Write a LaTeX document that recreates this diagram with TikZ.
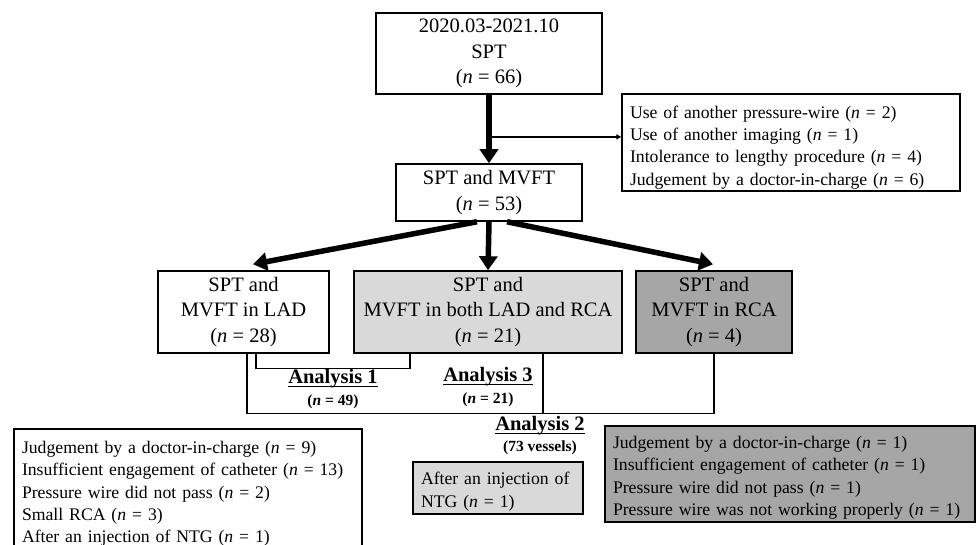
\documentclass[tikz,border=0pt]{standalone}
\usepackage{fontspec}
\setmainfont{Liberation Serif}
\usetikzlibrary{arrows.meta,calc}
\definecolor{lightbox}{HTML}{D9D9D9}
\definecolor{darkbox}{HTML}{A6A6A6}
\newcommand{\nn}[1]{(\textit{n} = #1)}
\newcommand{\thickul}[1]{\setbox0\hbox{#1}\rlap{\rule[-3.5pt]{\wd0}{1.6pt}}\box0}
\begin{document}
\begin{tikzpicture}[x=1pt,y=-1pt,
  box/.style={draw=black, line width=1.5pt, inner sep=0pt, align=center, font=\fontsize{20.5}{25.5}\selectfont,
    execute at begin node={\rule{0pt}{20pt}}},
  listbox/.style={draw=black, line width=1.5pt, inner xsep=8pt, inner ysep=0pt, align=left, font=\fontsize{17.7}{22.3}\selectfont,
    execute at begin node={\rule{0pt}{20pt}}},
  bigarrow/.style={line width=5.5pt, -{Triangle[length=14pt,width=18pt]}},
  thinarrow/.style={line width=1.3pt, -{Triangle[length=5pt,width=5pt]}},
  bracket/.style={line width=1.3pt},
  albl/.style={font=\fontsize{20.5}{22}\selectfont\bfseries, inner sep=0pt},
  nlbl/.style={font=\fontsize{15.5}{18}\selectfont\bfseries, inner sep=0pt}]

\useasboundingbox (0,0) rectangle (977,545);

% boxes
\node[box, minimum width=226pt, minimum height=81pt] (T) at (489,53.5) {2020.03-2021.10\\SPT\\\nn{66}};
\node[listbox, minimum width=338pt, minimum height=97pt, text width=322pt,
  execute at begin node={\rule{0pt}{22pt}}] (E) at (791,142.5)
  {Use of another pressure-wire \nn{2}\\Use of another imaging \nn{1}\\Intolerance to lengthy procedure \nn{4}\\Judgement by a doctor-in-charge \nn{6}};
\node[box, minimum width=186pt, minimum height=57pt] (S) at (489,192.5) {SPT and MVFT\\\nn{53}};

\node[box, minimum width=171pt, minimum height=82pt] (L) at (243.5,312) {SPT and\\MVFT in LAD\\\nn{28}};
\node[box, fill=lightbox, minimum width=268pt, minimum height=82pt] (M) at (488,312) {SPT and\\MVFT in both LAD and RCA\\\nn{21}};
\node[box, fill=darkbox, minimum width=156pt, minimum height=82pt] (R) at (714,312) {SPT and\\MVFT in RCA\\\nn{4}};

\node[listbox, minimum width=348pt, minimum height=122pt, text width=332pt] (BL) at (188,490)
  {Judgement by a doctor-in-charge \nn{9}\\Insufficient engagement of catheter \nn{13}\\Pressure wire did not pass \nn{2}\\Small RCA \nn{3}\\After an injection of NTG \nn{1}};
\node[listbox, fill=lightbox, minimum width=170pt, minimum height=52pt, text width=154pt] (N) at (498,488)
  {After an injection of\\NTG \nn{1}};
\node[listbox, fill=darkbox, minimum width=370pt, minimum height=96pt, text width=354pt] (BR) at (790,474)
  {Judgement by a doctor-in-charge \nn{1}\\Insufficient engagement of catheter \nn{1}\\Pressure wire did not pass \nn{1}\\Pressure wire was not working properly \nn{1}};

% analysis labels
\node[albl] (A1) at (333,379) {\thickul{Analysis 1}};
\node[nlbl] (A1n) at (333,402) {\nn{49}};
\node[albl] (A3) at (488,377) {\thickul{Analysis 3}};
\node[nlbl] (A3n) at (488,400) {\nn{21}};
\node[albl] (A2) at (540,426) {\thickul{Analysis 2}};
\node[nlbl] (A2n) at (540,448) {(73 vessels)};

% connectors
\draw[bigarrow] (T.south) -- (S.north);
\coordinate (br) at ($(T.south)!0.615!(S.north)$);
\draw[thinarrow] (br) -- (br -| E.west);
\draw[bigarrow] ([xshift=-12pt]S.south) -- ([xshift=9.5pt,yshift=6pt]L.north);
\draw[bigarrow] (S.south) -- (M.north);
\draw[bigarrow] ([xshift=18pt]S.south) -- ([xshift=-1pt,yshift=6pt]R.north);

\draw[bracket] ([xshift=12.5pt]L.south) -- ++(0,15) -| ([xshift=-78pt]M.south);
\draw[bracket] ([xshift=3.5pt]L.south) -- ++(0,60) -| (R.south);
\draw[bracket] ([xshift=55pt]M.south) -- ++(0,60);
\end{tikzpicture}
\end{document}
